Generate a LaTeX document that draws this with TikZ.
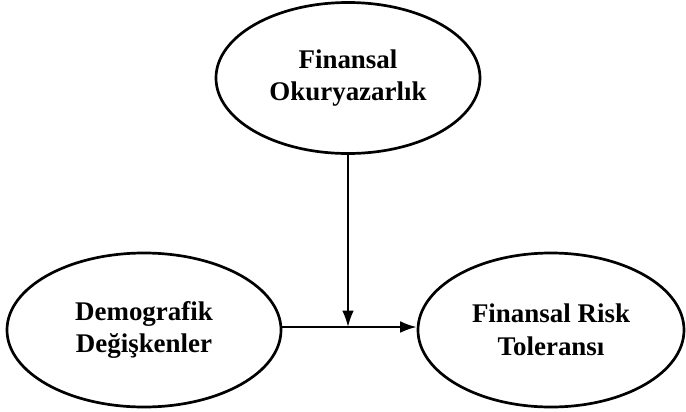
\documentclass[tikz,border=0pt]{standalone}
\usepackage{fontspec}
\setmainfont{Liberation Serif}
\usetikzlibrary{shapes.geometric,arrows.meta}
\tikzset{
	construct/.style = {shape=ellipse, draw, line width=2.3pt,
		align=center, inner sep=0pt,
		font=\fontsize{23}{28}\selectfont\bfseries},
	link/.style      = {draw, line width=1.7pt, -{Latex[length=14pt,width=10pt]}}
}

\begin{document}
\begin{tikzpicture}
[
x = 0.03cm,
y = -0.03cm
]
\useasboundingbox (0,0) rectangle (686,411);
\node [construct, minimum width=7.92cm, minimum height=4.53cm] (fo) at (348,78) {Finansal\\Okuryazarlık};
\node [construct, minimum width=8.22cm, minimum height=4.62cm] (dv) at (144,330) {Demografik\\Değişkenler};
\node [construct, minimum width=7.98cm, minimum height=4.62cm] (frt) at (551,330) {Finansal Risk\\Toleransı};
\coordinate (meet) at (fo.south |- 0,327);
\draw [link] (dv.east |- meet) -- (frt.west |- meet);
\draw [link] (fo.south) -- (meet);
\end{tikzpicture}
\end{document}
